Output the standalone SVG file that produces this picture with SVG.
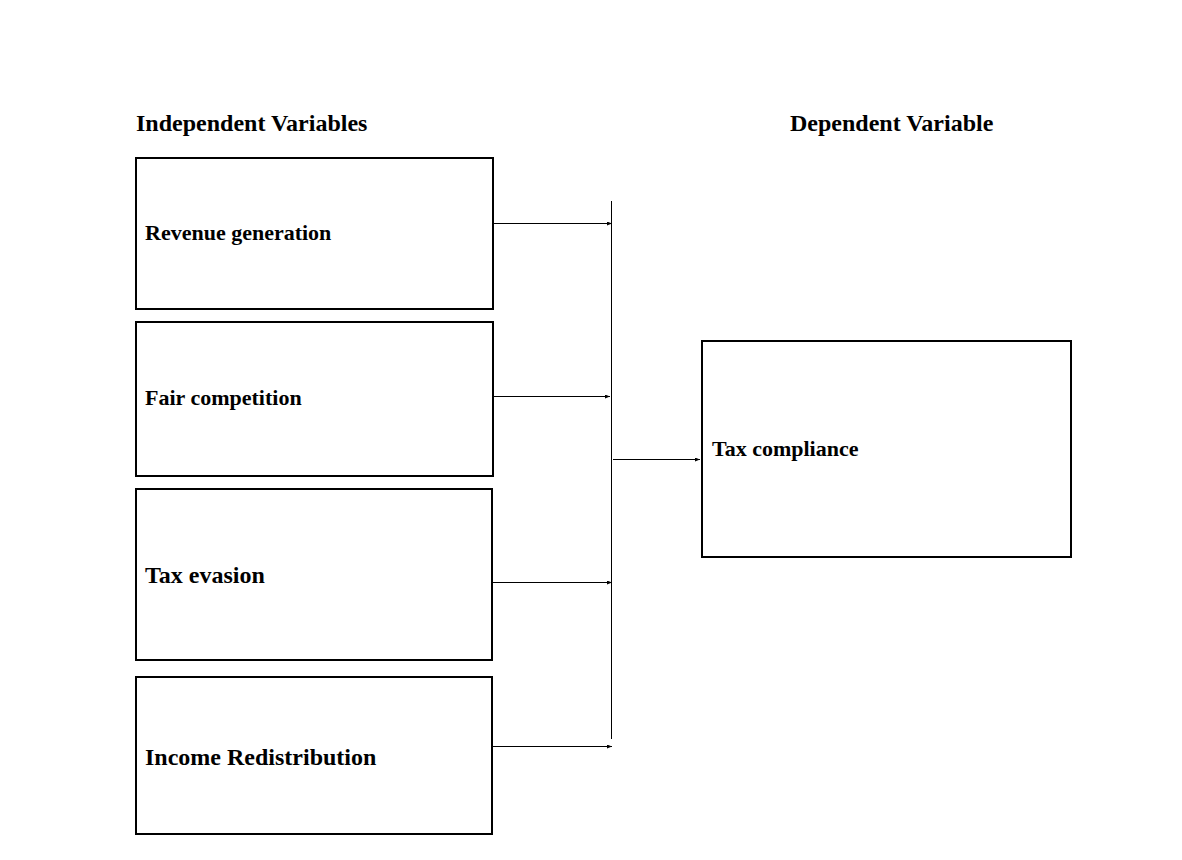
<svg xmlns="http://www.w3.org/2000/svg" width="1182" height="860" viewBox="0 0 1182 860">
<style>
.box{fill:#fff;stroke:#000;stroke-width:2}
.t{font-family:"Liberation Serif","Times New Roman",serif;font-weight:bold;fill:#000}
.c{stroke:#000;stroke-width:1;fill:none}
</style>
<defs>
<marker id="ah" markerWidth="5" markerHeight="4" refX="5" refY="2" orient="auto" markerUnits="userSpaceOnUse">
<path d="M0,0 L5,2 L0,4 z" fill="#000"/>
</marker>
</defs>
<rect width="1182" height="860" fill="#fff"/>
<text class="t" x="136" y="131" font-size="24">Independent Variables</text>
<text class="t" x="790" y="131" font-size="24">Dependent Variable</text>
<g id="n1"><rect class="box" x="136" y="158" width="357" height="151"/><text class="t" x="145" y="240" font-size="22">Revenue generation</text></g>
<g id="n2"><rect class="box" x="136" y="322" width="357" height="154"/><text class="t" x="145" y="405" font-size="22">Fair competition</text></g>
<g id="n3"><rect class="box" x="136" y="489" width="356" height="171"/><text class="t" x="145" y="583" font-size="24">Tax evasion</text></g>
<g id="n4"><rect class="box" x="136" y="677" width="356" height="157"/><text class="t" x="145" y="765" font-size="24">Income Redistribution</text></g>
<g id="n5"><rect class="box" x="702" y="341" width="369" height="216"/><text class="t" x="712" y="456" font-size="22">Tax compliance</text></g>
<g id="connectors">
<line class="c" x1="611.5" y1="201" x2="611.5" y2="739"/>
<line class="c" x1="494" y1="223.5" x2="612" y2="223.5" marker-end="url(#ah)"/>
<line class="c" x1="494" y1="396.5" x2="610" y2="396.5" marker-end="url(#ah)"/>
<line class="c" x1="493" y1="582.5" x2="612" y2="582.5" marker-end="url(#ah)"/>
<line class="c" x1="493" y1="746.5" x2="612" y2="746.5" marker-end="url(#ah)"/>
<line class="c" x1="613" y1="459.5" x2="700" y2="459.5" marker-end="url(#ah)"/>
</g>
</svg>
